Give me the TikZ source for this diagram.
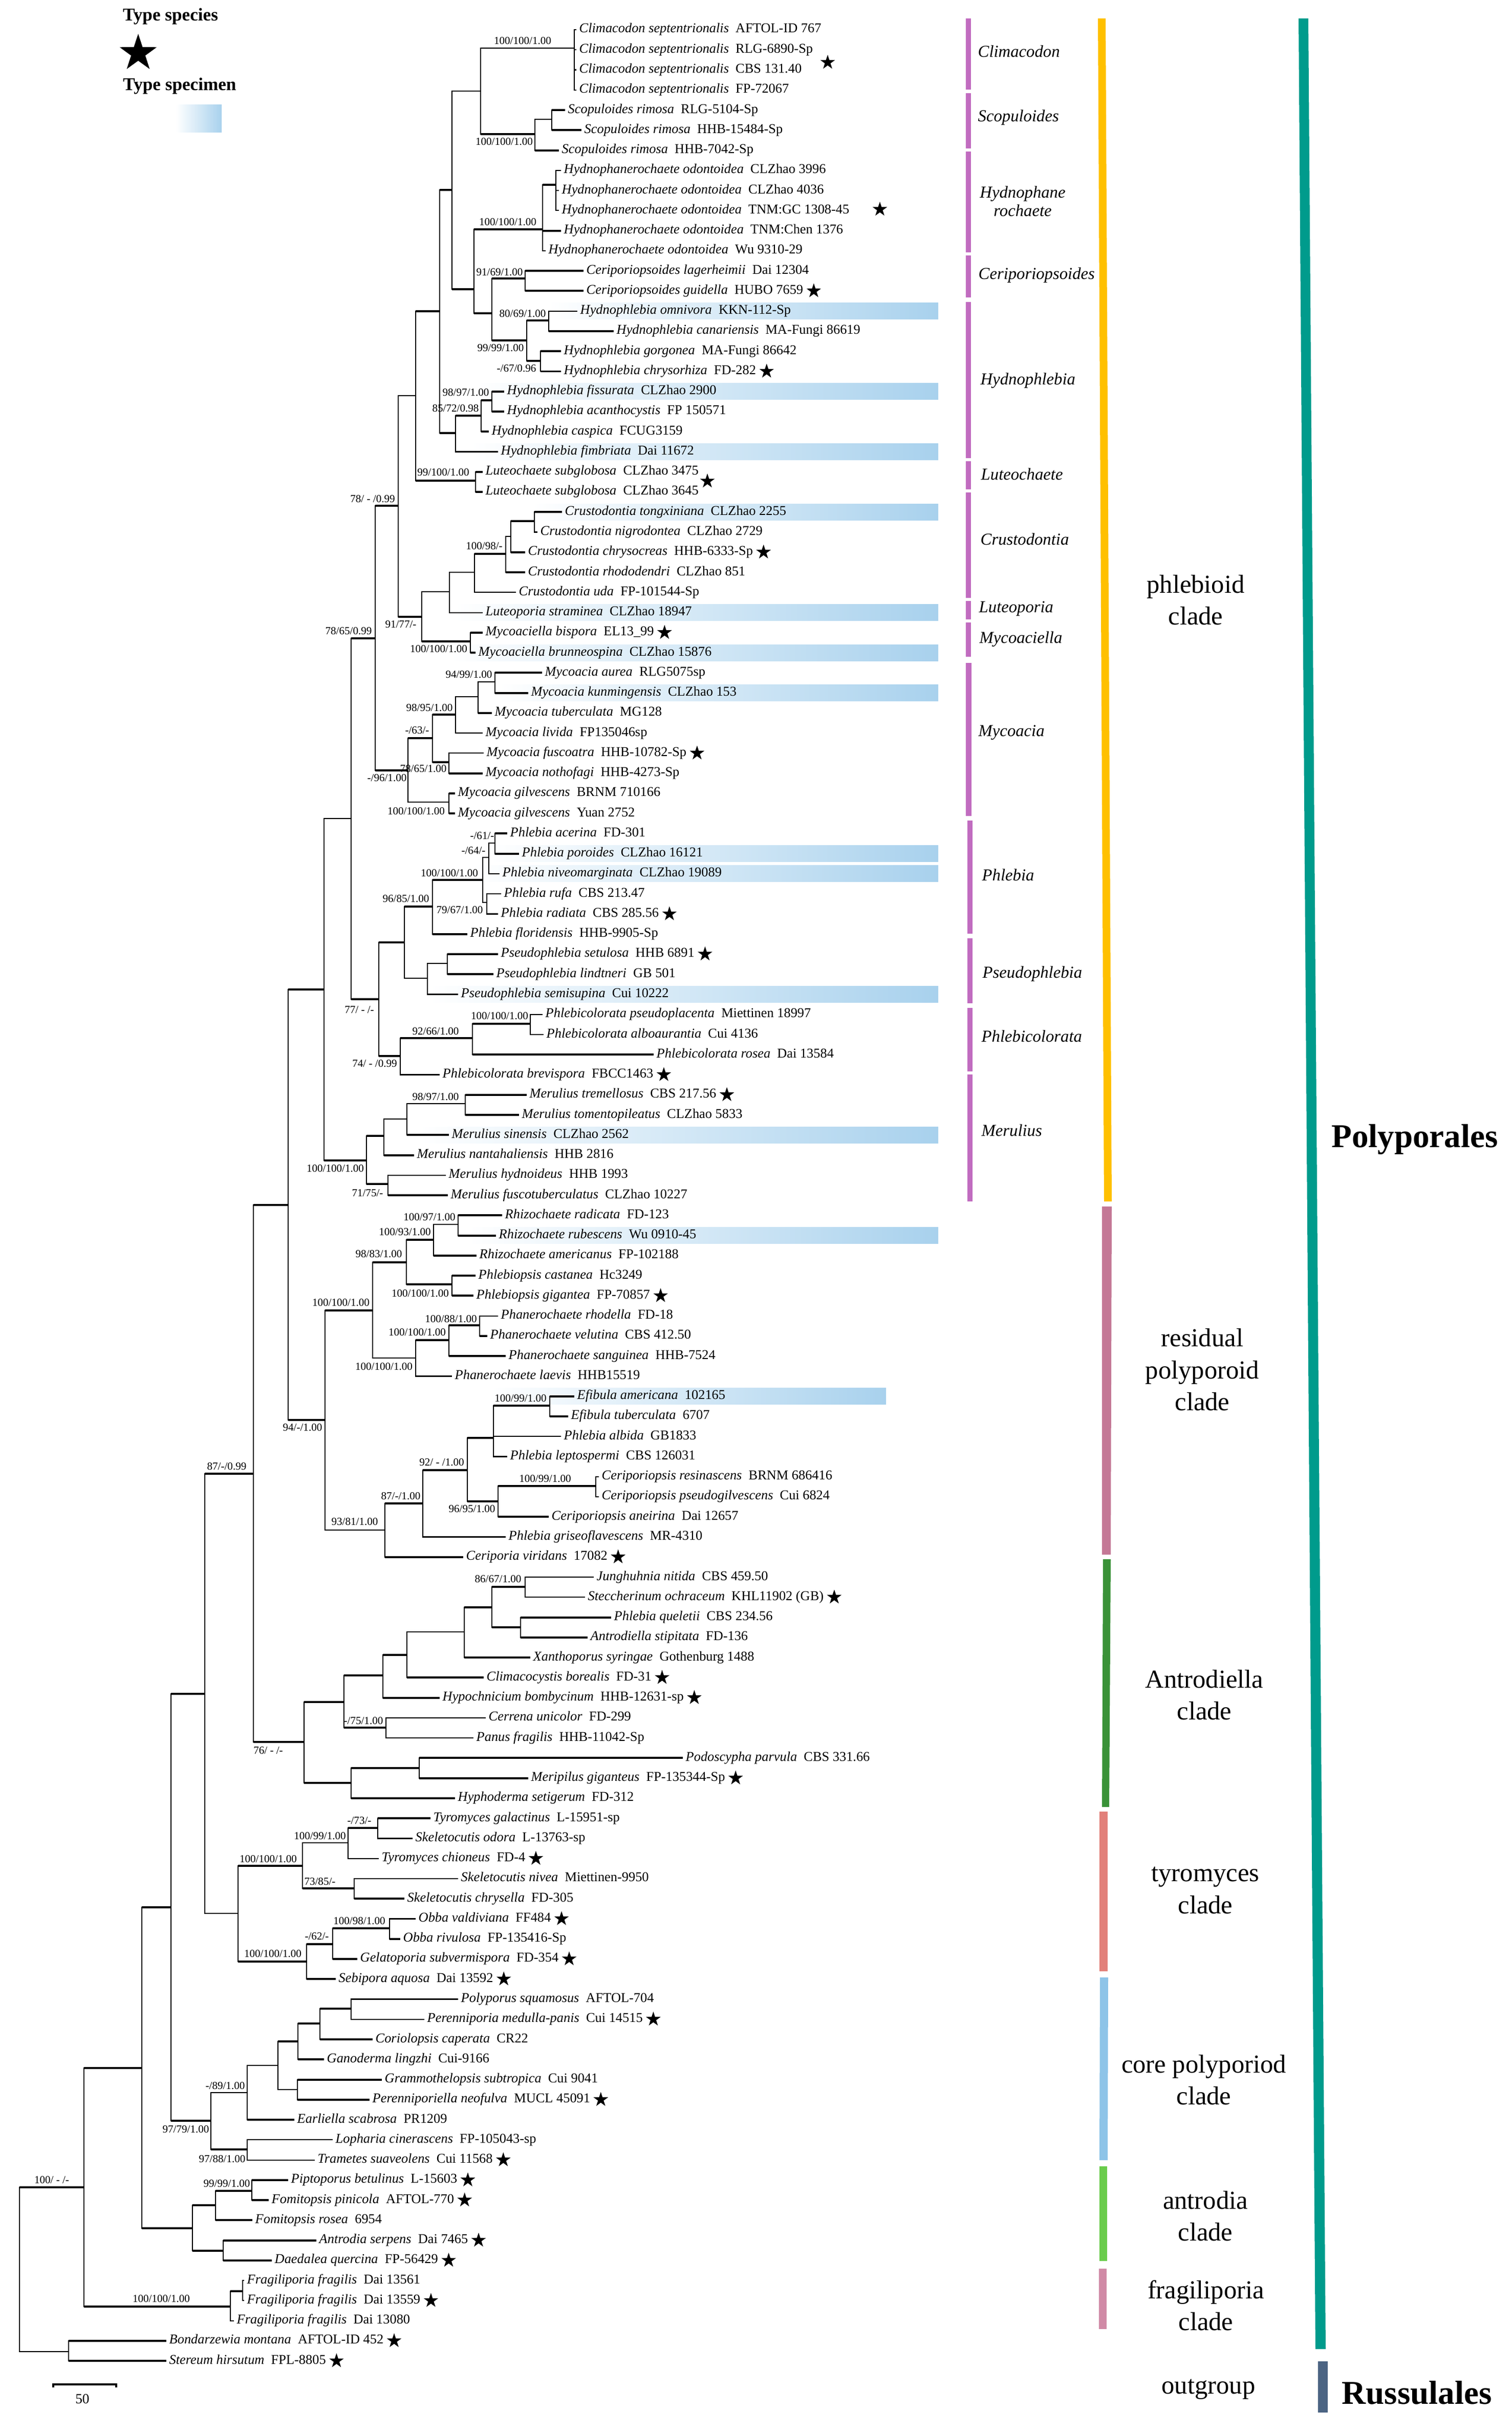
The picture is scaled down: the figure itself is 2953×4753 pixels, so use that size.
\documentclass[tikz,border=0pt]{standalone}
\usepackage{fontspec}
\setmainfont{Liberation Serif}
\usetikzlibrary{shapes.geometric}
\definecolor{hl}{RGB}{168,209,237}
\definecolor{genc}{RGB}{193,108,192}
\definecolor{phlc}{RGB}{255,192,0}
\definecolor{resc}{RGB}{196,120,150}
\definecolor{antdc}{RGB}{58,146,56}
\definecolor{tyrc}{RGB}{226,128,122}
\definecolor{corec}{RGB}{142,196,232}
\definecolor{antrc}{RGB}{106,204,76}
\definecolor{fragc}{RGB}{208,138,166}
\definecolor{polc}{RGB}{0,155,140}
\definecolor{rusc}{RGB}{76,100,131}
\newcommand\mkN[3]{\coordinate (#1) at (#2,#3);}
\newcommand\mkL[4]{\coordinate (L#1) at (#2,{58+39.26*(#1-1)});\node[lf] (T#1) at ([xshift=0.05cm]L#1) {\textit{#3}\hspace{0.5em}#4};}
\newcommand\mkE[3]{\draw[vl] (#2) -- (#2|-#3);\draw[#1] (#2|-#3) -- (#3);}
\newcommand\mkS[1]{\node[st] (S#1) at ([xshift=0.2cm]T#1.east) {};}
\newcommand\mkH[3]{\shade[left color=white,right color=hl] (#2,{58+39.26*(#1-1)-16}) rectangle (#3,{58+39.26*(#1-1)+16});}
\newcommand\mkQ[4]{\node[sup] (#1) at (#2,#3) {#4};}
\begin{document}
\begin{tikzpicture}[x=0.01cm,y=-0.01cm,
 vl/.style={line width=0.6pt,line cap=rect},
 hk/.style={line width=1.1pt},
 hn/.style={line width=0.6pt},
 lf/.style={anchor=west,inner sep=0pt,font=\fontsize{7.5}{9}\selectfont,text height=5pt,text depth=1.6pt},
 sup/.style={inner sep=0pt,font=\fontsize{6}{7}\selectfont},
 st/.style={star,star points=5,star point ratio=2.6,fill=black,draw=none,inner sep=0pt,minimum size=0.3cm},
 gl/.style={anchor=west,inner sep=0pt,font=\fontsize{9.3}{10.3}\selectfont\itshape},
 cl/.style={inner sep=0pt,align=center,font=\fontsize{14.4}{17.8}\selectfont},
 ol/.style={inner sep=0pt,font=\fontsize{18.5}{20}\selectfont\bfseries}]
\fill[white] (0,0) rectangle (2953,4753);
\useasboundingbox (0,0) rectangle (2953,4753);
% legend
\node[inner sep=0pt,font=\fontsize{10}{12}\selectfont\bfseries] (lg1) at (333,32) {Type species};
\node[star,star points=5,star point ratio=2.6,fill=black,inner sep=0pt,minimum size=0.76cm] (lg2) at (270,104) {};
\node[inner sep=0pt,font=\fontsize{10}{12}\selectfont\bfseries] (lg3) at (351,168) {Type specimen};
\shade[left color=white,right color=hl] (344,204) rectangle (433,258);
% highlight bars
\mkH{15}{1070}{1833}\mkH{19}{930}{1833}\mkH{22}{920}{1833}\mkH{25}{1040}{1833}
\mkH{30}{890}{1833}\mkH{32}{880}{1833}\mkH{34}{975}{1833}\mkH{42}{960}{1833}
\mkH{43}{925}{1833}\mkH{49}{840}{1833}\mkH{56}{820}{1833}\mkH{61}{915}{1833}
\mkH{69}{960}{1731}
% internal nodes
\mkN{root}{38}{4434}\mkN{nCC}{164}{4273}\mkN{nOut}{134}{4594}\mkN{nBB}{277}{4040}
\mkN{nFrag}{450}{4506}\mkN{nFragA}{474}{4476}\mkN{nAntr}{376}{4353}\mkN{nFom}{421}{4308}
\mkN{nPip}{492}{4280}\mkN{nAntrB}{436}{4397}\mkN{nAA}{334}{3726}\mkN{nCore}{412}{4143}
\mkN{nTram}{483}{4199}\mkN{nCoreA}{483}{4088}\mkN{nCoreB}{543}{4035}\mkN{nGram}{581}{4082}
\mkN{nCoreC}{582}{3988}\mkN{nCoreD}{625}{3953}\mkN{nPoly}{686}{3924}\mkN{nZ}{400}{3309}
\mkN{nTyr}{465}{3738}\mkN{nTyrA}{591}{3645}\mkN{nTyrB}{680}{3600}\mkN{nTyrC}{738}{3571}
\mkN{nSkel}{692}{3689}\mkN{nObb}{599}{3832}\mkN{nObbA}{650}{3798}\mkN{nObbB}{761}{3767}
\mkN{nY}{495}{2879}\mkN{nAnt}{594}{3403}\mkN{nAntA}{672}{3325}\mkN{nAntB}{748}{3273}
\mkN{nAntC}{795}{3233}\mkN{nAntD}{907}{3188}\mkN{nAntE}{961}{3140}\mkN{nJung}{1026}{3100}
\mkN{nQuel}{1017}{3179}\mkN{nCerr}{754}{3375}\mkN{nPod}{686}{3483}\mkN{nPodA}{819}{3454}
\mkN{nX}{563}{2354}\mkN{nRes}{635}{2774}\mkN{nRhPh}{728}{2560}\mkN{nRhPb}{794}{2466}
\mkN{nRh}{847}{2422}\mkN{nRhA}{895}{2392}\mkN{nPbs}{883}{2509}\mkN{nPhan}{812}{2653}
\mkN{nPhanA}{877}{2618}\mkN{nPhanB}{937}{2589}\mkN{nCer}{752}{2989}\mkN{nCerB}{826}{2937}
\mkN{nCerC}{913}{2872}\mkN{nAlb}{964}{2809}\mkN{nEfi}{1074}{2746}\mkN{nCerD}{973}{2933}
\mkN{nCerE}{1164}{2903}\mkN{nW}{633}{1933}\mkN{nMer}{716}{2267}\mkN{nMerA}{750}{2219}
\mkN{nMerB}{795}{2186}\mkN{nMerC}{909}{2156}\mkN{nMerH}{758}{2313}\mkN{nU}{686}{1599}
\mkN{nV}{740}{1952}\mkN{nPhl}{790}{1841}\mkN{nPhlA}{845}{1771}\mkN{nPhlB}{943}{1719}
\mkN{nPhlC}{955}{1675}\mkN{nAcer}{967}{1647}\mkN{nPhlD}{951}{1763}\mkN{nPse}{835}{1911}
\mkN{nPseA}{874}{1882}\mkN{nPhc}{782}{2063}\mkN{nPhcA}{923}{2028}\mkN{nPhcB}{1036}{2000}
\mkN{nT}{733}{1247}\mkN{nMyc}{797}{1505}\mkN{nMycA}{845}{1442}\mkN{nMycB}{890}{1396}
\mkN{nMycC}{934}{1361}\mkN{nMycD}{967}{1332}\mkN{nMycE}{877}{1489}\mkN{nGilv}{877}{1567}
\mkN{nR}{778}{988}\mkN{nS}{824}{1205}\mkN{nCrustAll}{878}{1156}\mkN{nCrust}{927}{1118}
\mkN{nCrustB}{988}{1082}\mkN{nCrustC}{998}{1048}\mkN{nCrustA}{1044}{1018}\mkN{nMycel}{919}{1253}
\mkN{nQ}{812}{773}\mkN{nLuteo}{929}{939}\mkN{nP}{859}{608}\mkN{nFis}{890}{846}
\mkN{nFisB}{940}{812}\mkN{nFisA}{961}{782}\mkN{nC}{883}{371}\mkN{nB}{939}{178}
\mkN{nClim}{1122}{94}\mkN{nScop}{1045}{262}\mkN{nScopA}{1078}{233}\mkN{nD}{926}{565}
\mkN{nHydph}{1060}{448}\mkN{nHydphA}{1086}{361}\mkN{nE}{961}{612}\mkN{nCerA}{1026}{544}
\mkN{nHph}{1029}{665}\mkN{nHphA}{1072}{626}\mkN{nHphB}{1056}{705}
% leaves
\mkL{1}{1126}{Climacodon septentrionalis}{AFTOL-ID 767}
\mkL{2}{1126}{Climacodon septentrionalis}{RLG-6890-Sp}
\mkL{3}{1126}{Climacodon septentrionalis}{CBS 131.40}
\mkL{4}{1126}{Climacodon septentrionalis}{FP-72067}
\mkL{5}{1104}{Scopuloides rimosa}{RLG-5104-Sp}
\mkL{6}{1136}{Scopuloides rimosa}{HHB-15484-Sp}
\mkL{7}{1092}{Scopuloides rimosa}{HHB-7042-Sp}
\mkL{8}{1096}{Hydnophanerochaete odontoidea}{CLZhao 3996}
\mkL{9}{1092}{Hydnophanerochaete odontoidea}{CLZhao 4036}
\mkL{10}{1092}{Hydnophanerochaete odontoidea}{TNM:GC 1308-45}
\mkL{11}{1096}{Hydnophanerochaete odontoidea}{TNM:Chen 1376}
\mkL{12}{1066}{Hydnophanerochaete odontoidea}{Wu 9310-29}
\mkL{13}{1140}{Ceriporiopsoides lagerheimii}{Dai 12304}
\mkL{14}{1140}{Ceriporiopsoides guidella}{HUBO 7659}
\mkL{15}{1128}{Hydnophlebia omnivora}{KKN-112-Sp}
\mkL{16}{1199}{Hydnophlebia canariensis}{MA-Fungi 86619}
\mkL{17}{1096}{Hydnophlebia gorgonea}{MA-Fungi 86642}
\mkL{18}{1096}{Hydnophlebia chrysorhiza}{FD-282}
\mkL{19}{985}{Hydnophlebia fissurata}{CLZhao 2900}
\mkL{20}{985}{Hydnophlebia acanthocystis}{FP 150571}
\mkL{21}{955}{Hydnophlebia caspica}{FCUG3159}
\mkL{22}{973}{Hydnophlebia fimbriata}{Dai 11672}
\mkL{23}{943}{Luteochaete subglobosa}{CLZhao 3475}
\mkL{24}{943}{Luteochaete subglobosa}{CLZhao 3645}
\mkL{25}{1098}{Crustodontia tongxiniana}{CLZhao 2255}
\mkL{26}{1050}{Crustodontia nigrodontea}{CLZhao 2729}
\mkL{27}{1026}{Crustodontia chrysocreas}{HHB-6333-Sp}
\mkL{28}{1026}{Crustodontia rhododendri}{CLZhao 851}
\mkL{29}{1008}{Crustodontia uda}{FP-101544-Sp}
\mkL{30}{943}{Luteoporia straminea}{CLZhao 18947}
\mkL{31}{943}{Mycoaciella bispora}{EL13\_99}
\mkL{32}{929}{Mycoaciella brunneospina}{CLZhao 15876}
\mkL{33}{1059}{Mycoacia aurea}{RLG5075sp}
\mkL{34}{1032}{Mycoacia kunmingensis}{CLZhao 153}
\mkL{35}{961}{Mycoacia tuberculata}{MG128}
\mkL{36}{943}{Mycoacia livida}{FP135046sp}
\mkL{37}{945}{Mycoacia fuscoatra}{HHB-10782-Sp}
\mkL{38}{943}{Mycoacia nothofagi}{HHB-4273-Sp}
\mkL{39}{889}{Mycoacia gilvescens}{BRNM 710166}
\mkL{40}{889}{Mycoacia gilvescens}{Yuan 2752}
\mkL{41}{991}{Phlebia acerina}{FD-301}
\mkL{42}{1014}{Phlebia poroides}{CLZhao 16121}
\mkL{43}{976}{Phlebia niveomarginata}{CLZhao 19089}
\mkL{44}{979}{Phlebia rufa}{CBS 213.47}
\mkL{45}{973}{Phlebia radiata}{CBS 285.56}
\mkL{46}{913}{Phlebia floridensis}{HHB-9905-Sp}
\mkL{47}{973}{Pseudophlebia setulosa}{HHB 6891}
\mkL{48}{964}{Pseudophlebia lindtneri}{GB 501}
\mkL{49}{895}{Pseudophlebia semisupina}{Cui 10222}
\mkL{50}{1060}{Phlebicolorata pseudoplacenta}{Miettinen 18997}
\mkL{51}{1062}{Phlebicolorata alboaurantia}{Cui 4136}
\mkL{52}{1277}{Phlebicolorata rosea}{Dai 13584}
\mkL{53}{859}{Phlebicolorata brevispora}{FBCC1463}
\mkL{54}{1029}{Merulius tremellosus}{CBS 217.56}
\mkL{55}{1014}{Merulius tomentopileatus}{CLZhao 5833}
\mkL{56}{877}{Merulius sinensis}{CLZhao 2562}
\mkL{57}{809}{Merulius nantahaliensis}{HHB 2816}
\mkL{58}{871}{Merulius hydnoideus}{HHB 1993}
\mkL{59}{875}{Merulius fuscotuberculatus}{CLZhao 10227}
\mkL{60}{981}{Rhizochaete radicata}{FD-123}
\mkL{61}{969}{Rhizochaete rubescens}{Wu 0910-45}
\mkL{62}{931}{Rhizochaete americanus}{FP-102188}
\mkL{63}{929}{Phlebiopsis castanea}{Hc3249}
\mkL{64}{925}{Phlebiopsis gigantea}{FP-70857}
\mkL{65}{973}{Phanerochaete rhodella}{FD-18}
\mkL{66}{952}{Phanerochaete velutina}{CBS 412.50}
\mkL{67}{988}{Phanerochaete sanguinea}{HHB-7524}
\mkL{68}{883}{Phanerochaete laevis}{HHB15519}
\mkL{69}{1122}{Efibula americana}{102165}
\mkL{70}{1110}{Efibula tuberculata}{6707}
\mkL{71}{1096}{Phlebia albida}{GB1833}
\mkL{72}{991}{Phlebia leptospermi}{CBS 126031}
\mkL{73}{1170}{Ceriporiopsis resinascens}{BRNM 686416}
\mkL{74}{1170}{Ceriporiopsis pseudogilvescens}{Cui 6824}
\mkL{75}{1072}{Ceriporiopsis aneirina}{Dai 12657}
\mkL{76}{988}{Phlebia griseoflavescens}{MR-4310}
\mkL{77}{905}{Ceriporia viridans}{17082}
\mkL{78}{1160}{Junghuhnia nitida}{CBS 459.50}
\mkL{79}{1143}{Steccherinum ochraceum}{KHL11902 (GB)}
\mkL{80}{1194}{Phlebia queletii}{CBS 234.56}
\mkL{81}{1148}{Antrodiella stipitata}{FD-136}
\mkL{82}{1036}{Xanthoporus syringae}{Gothenburg 1488}
\mkL{83}{945}{Climacocystis borealis}{FD-31}
\mkL{84}{859}{Hypochnicium bombycinum}{HHB-12631-sp}
\mkL{85}{949}{Cerrena unicolor}{FD-299}
\mkL{86}{925}{Panus fragilis}{HHB-11042-Sp}
\mkL{87}{1334}{Podoscypha parvula}{CBS 331.66}
\mkL{88}{1032}{Meripilus giganteus}{FP-135344-Sp}
\mkL{89}{889}{Hyphoderma setigerum}{FD-312}
\mkL{90}{841}{Tyromyces galactinus}{L-15951-sp}
\mkL{91}{806}{Skeletocutis odora}{L-13763-sp}
\mkL{92}{740}{Tyromyces chioneus}{FD-4}
\mkL{93}{895}{Skeletocutis nivea}{Miettinen-9950}
\mkL{94}{790}{Skeletocutis chrysella}{FD-305}
\mkL{95}{812}{Obba valdiviana}{FF484}
\mkL{96}{782}{Obba rivulosa}{FP-135416-Sp}
\mkL{97}{698}{Gelatoporia subvermispora}{FD-354}
\mkL{98}{656}{Sebipora aquosa}{Dai 13592}
\mkL{99}{895}{Polyporus squamosus}{AFTOL-704}
\mkL{100}{829}{Perenniporia medulla-panis}{Cui 14515}
\mkL{101}{728}{Coriolopsis caperata}{CR22}
\mkL{102}{633}{Ganoderma lingzhi}{Cui-9166}
\mkL{103}{746}{Grammothelopsis subtropica}{Cui 9041}
\mkL{104}{722}{Perenniporiella neofulva}{MUCL 45091}
\mkL{105}{575}{Earliella scabrosa}{PR1209}
\mkL{106}{650}{Lopharia cinerascens}{FP-105043-sp}
\mkL{107}{615}{Trametes suaveolens}{Cui 11568}
\mkL{108}{563}{Piptoporus betulinus}{L-15603}
\mkL{109}{525}{Fomitopsis pinicola}{AFTOL-770}
\mkL{110}{493}{Fomitopsis rosea}{6954}
\mkL{111}{618}{Antrodia serpens}{Dai 7465}
\mkL{112}{531}{Daedalea quercina}{FP-56429}
\mkL{113}{477}{Fragiliporia fragilis}{Dai 13561}
\mkL{114}{477}{Fragiliporia fragilis}{Dai 13559}
\mkL{115}{457}{Fragiliporia fragilis}{Dai 13080}
\mkL{116}{325}{Bondarzewia montana}{AFTOL-ID 452}
\mkL{117}{325}{Stereum hirsutum}{FPL-8805}
% edges
\mkE{hk}{root}{nCC}\mkE{hn}{root}{nOut}\mkE{hk}{nOut}{L116}\mkE{hk}{nOut}{L117}
\mkE{hk}{nCC}{nBB}\mkE{hk}{nCC}{nFrag}\mkE{hk}{nFrag}{nFragA}\mkE{hn}{nFrag}{L115}
\mkE{hn}{nFragA}{L113}\mkE{hn}{nFragA}{L114}
\mkE{hk}{nBB}{nAA}\mkE{hk}{nBB}{nAntr}\mkE{hk}{nAntr}{nFom}\mkE{hk}{nAntr}{nAntrB}
\mkE{hk}{nFom}{nPip}\mkE{hk}{nFom}{L110}\mkE{hk}{nPip}{L108}\mkE{hk}{nPip}{L109}
\mkE{hk}{nAntrB}{L111}\mkE{hk}{nAntrB}{L112}
\mkE{hk}{nAA}{nZ}\mkE{hk}{nAA}{nCore}\mkE{hn}{nCore}{nCoreA}\mkE{hk}{nCore}{nTram}
\mkE{hn}{nTram}{L106}\mkE{hn}{nTram}{L107}\mkE{hn}{nCoreA}{nCoreB}\mkE{hk}{nCoreA}{L105}
\mkE{hk}{nCoreB}{nCoreC}\mkE{hn}{nCoreB}{nGram}\mkE{hk}{nGram}{L103}\mkE{hk}{nGram}{L104}
\mkE{hk}{nCoreC}{nCoreD}\mkE{hk}{nCoreC}{L102}\mkE{hk}{nCoreD}{nPoly}\mkE{hk}{nCoreD}{L101}
\mkE{hn}{nPoly}{L99}\mkE{hn}{nPoly}{L100}
\mkE{hk}{nZ}{nY}\mkE{hn}{nZ}{nTyr}\mkE{hk}{nTyr}{nTyrA}\mkE{hk}{nTyr}{nObb}
\mkE{hn}{nTyrA}{nTyrB}\mkE{hk}{nTyrA}{nSkel}\mkE{hk}{nTyrB}{nTyrC}\mkE{hn}{nTyrB}{L92}
\mkE{hk}{nTyrC}{L90}\mkE{hk}{nTyrC}{L91}\mkE{hn}{nSkel}{L93}\mkE{hk}{nSkel}{L94}
\mkE{hk}{nObb}{nObbA}\mkE{hk}{nObb}{L98}\mkE{hk}{nObbA}{nObbB}\mkE{hk}{nObbA}{L97}
\mkE{hk}{nObbB}{L95}\mkE{hk}{nObbB}{L96}
\mkE{hk}{nY}{nX}\mkE{hk}{nY}{nAnt}\mkE{hk}{nAnt}{nAntA}\mkE{hk}{nAnt}{nPod}
\mkE{hk}{nAntA}{nAntB}\mkE{hk}{nAntA}{nCerr}\mkE{hk}{nAntB}{nAntC}\mkE{hk}{nAntB}{L84}
\mkE{hn}{nAntC}{nAntD}\mkE{hk}{nAntC}{L83}\mkE{hk}{nAntD}{nAntE}\mkE{hk}{nAntD}{L82}
\mkE{hk}{nAntE}{nJung}\mkE{hk}{nAntE}{nQuel}\mkE{hn}{nJung}{L78}\mkE{hn}{nJung}{L79}
\mkE{hk}{nQuel}{L80}\mkE{hk}{nQuel}{L81}\mkE{hn}{nCerr}{L85}\mkE{hn}{nCerr}{L86}
\mkE{hk}{nPod}{nPodA}\mkE{hk}{nPod}{L89}\mkE{hk}{nPodA}{L87}\mkE{hk}{nPodA}{L88}
\mkE{hk}{nX}{nW}\mkE{hk}{nX}{nRes}\mkE{hk}{nRes}{nRhPh}\mkE{hn}{nRes}{nCer}
\mkE{hk}{nRhPh}{nRhPb}\mkE{hn}{nRhPh}{nPhan}\mkE{hk}{nRhPb}{nRh}\mkE{hk}{nRhPb}{nPbs}
\mkE{hn}{nRh}{nRhA}\mkE{hk}{nRh}{L62}\mkE{hk}{nRhA}{L60}\mkE{hk}{nRhA}{L61}
\mkE{hk}{nPbs}{L63}\mkE{hk}{nPbs}{L64}\mkE{hk}{nPhan}{nPhanA}\mkE{hk}{nPhan}{L68}
\mkE{hk}{nPhanA}{nPhanB}\mkE{hk}{nPhanA}{L67}\mkE{hn}{nPhanB}{L65}\mkE{hk}{nPhanB}{L66}
\mkE{hk}{nCer}{nCerB}\mkE{hk}{nCer}{L77}\mkE{hk}{nCerB}{nCerC}\mkE{hk}{nCerB}{L76}
\mkE{hk}{nCerC}{nAlb}\mkE{hk}{nCerC}{nCerD}\mkE{hk}{nAlb}{nEfi}\mkE{hn}{nAlb}{L71}
\mkE{hn}{nAlb}{L72}\mkE{hk}{nEfi}{L69}\mkE{hk}{nEfi}{L70}\mkE{hk}{nCerD}{nCerE}
\mkE{hk}{nCerD}{L75}\mkE{hn}{nCerE}{L73}\mkE{hn}{nCerE}{L74}
\mkE{hn}{nW}{nU}\mkE{hk}{nW}{nMer}\mkE{hk}{nMer}{nMerA}\mkE{hk}{nMer}{nMerH}
\mkE{hn}{nMerA}{nMerB}\mkE{hk}{nMerA}{L57}\mkE{hn}{nMerB}{nMerC}\mkE{hk}{nMerB}{L56}
\mkE{hk}{nMerC}{L54}\mkE{hk}{nMerC}{L55}\mkE{hn}{nMerH}{L58}\mkE{hk}{nMerH}{L59}
\mkE{hk}{nU}{nT}\mkE{hk}{nU}{nV}\mkE{hk}{nV}{nPhl}\mkE{hk}{nV}{nPhc}
\mkE{hk}{nPhl}{nPhlA}\mkE{hn}{nPhl}{nPse}\mkE{hk}{nPhlA}{nPhlB}\mkE{hk}{nPhlA}{L46}
\mkE{hn}{nPhlB}{nPhlC}\mkE{hn}{nPhlB}{nPhlD}\mkE{hn}{nPhlC}{nAcer}\mkE{hn}{nPhlC}{L43}
\mkE{hk}{nAcer}{L41}\mkE{hk}{nAcer}{L42}\mkE{hn}{nPhlD}{L44}\mkE{hn}{nPhlD}{L45}
\mkE{hn}{nPse}{nPseA}\mkE{hk}{nPse}{L49}\mkE{hk}{nPseA}{L47}\mkE{hk}{nPseA}{L48}
\mkE{hk}{nPhc}{nPhcA}\mkE{hk}{nPhc}{L53}\mkE{hk}{nPhcA}{nPhcB}\mkE{hk}{nPhcA}{L52}
\mkE{hn}{nPhcB}{L50}\mkE{hn}{nPhcB}{L51}
\mkE{hk}{nT}{nR}\mkE{hk}{nT}{nMyc}\mkE{hk}{nMyc}{nMycA}\mkE{hn}{nMyc}{nGilv}
\mkE{hk}{nMycA}{nMycB}\mkE{hk}{nMycA}{nMycE}\mkE{hn}{nMycB}{nMycC}\mkE{hn}{nMycB}{L36}
\mkE{hn}{nMycC}{nMycD}\mkE{hk}{nMycC}{L35}\mkE{hk}{nMycD}{L33}\mkE{hk}{nMycD}{L34}
\mkE{hn}{nMycE}{L37}\mkE{hk}{nMycE}{L38}\mkE{hk}{nGilv}{L39}\mkE{hk}{nGilv}{L40}
\mkE{hn}{nR}{nQ}\mkE{hk}{nR}{nS}\mkE{hn}{nS}{nCrustAll}\mkE{hk}{nS}{nMycel}
\mkE{hn}{nCrustAll}{nCrust}\mkE{hn}{nCrustAll}{L30}\mkE{hk}{nCrust}{nCrustB}\mkE{hn}{nCrust}{L29}
\mkE{hn}{nCrustB}{nCrustC}\mkE{hk}{nCrustB}{L28}\mkE{hk}{nCrustC}{nCrustA}\mkE{hk}{nCrustC}{L27}
\mkE{hk}{nCrustA}{L25}\mkE{hk}{nCrustA}{L26}\mkE{hk}{nMycel}{L31}\mkE{hk}{nMycel}{L32}
\mkE{hk}{nQ}{nP}\mkE{hk}{nQ}{nLuteo}\mkE{hk}{nLuteo}{L23}\mkE{hk}{nLuteo}{L24}
\mkE{hk}{nP}{nC}\mkE{hk}{nP}{nFis}\mkE{hk}{nFis}{nFisB}\mkE{hn}{nFis}{L22}
\mkE{hk}{nFisB}{nFisA}\mkE{hk}{nFisB}{L21}\mkE{hk}{nFisA}{L19}\mkE{hk}{nFisA}{L20}
\mkE{hn}{nC}{nB}\mkE{hk}{nC}{nD}\mkE{hn}{nB}{nClim}\mkE{hk}{nB}{nScop}
\mkE{hn}{nClim}{L1}\mkE{hn}{nClim}{L2}\mkE{hn}{nClim}{L3}\mkE{hn}{nClim}{L4}
\mkE{hn}{nScop}{nScopA}\mkE{hk}{nScop}{L7}\mkE{hk}{nScopA}{L5}\mkE{hk}{nScopA}{L6}
\mkE{hk}{nD}{nHydph}\mkE{hk}{nD}{nE}\mkE{hk}{nHydph}{nHydphA}\mkE{hk}{nHydph}{L11}
\mkE{hn}{nHydph}{L12}\mkE{hn}{nHydphA}{L8}\mkE{hn}{nHydphA}{L9}\mkE{hn}{nHydphA}{L10}
\mkE{hk}{nE}{nCerA}\mkE{hk}{nE}{nHph}\mkE{hk}{nCerA}{L13}\mkE{hk}{nCerA}{L14}
\mkE{hk}{nHph}{nHphA}\mkE{hk}{nHph}{nHphB}\mkE{hn}{nHphA}{L15}\mkE{hk}{nHphA}{L16}
\mkE{hk}{nHphB}{L17}\mkE{hk}{nHphB}{L18}
% stars
\node[st] (Sclim) at (1617,122) {};
\node[st] (Shyd) at (1719,409) {};
\node[st] (Slut) at (1382,940) {};
\mkS{14}\mkS{18}\mkS{27}\mkS{31}\mkS{37}\mkS{45}\mkS{47}\mkS{53}\mkS{54}\mkS{64}
\mkS{77}\mkS{79}\mkS{83}\mkS{84}\mkS{88}\mkS{92}\mkS{95}\mkS{97}\mkS{98}\mkS{100}
\mkS{104}\mkS{107}\mkS{108}\mkS{109}\mkS{111}\mkS{112}\mkS{114}\mkS{116}\mkS{117}
% support values
\mkQ{q1}{1021}{80}{100/100/1.00}\mkQ{q2}{985}{277}{100/100/1.00}\mkQ{q3}{992}{434}{100/100/1.00}
\mkQ{q4}{976}{532}{91/69/1.00}\mkQ{q5}{1021}{613}{80/69/1.00}\mkQ{q6}{978}{680}{99/99/1.00}
\mkQ{q7}{1009}{720}{-/67/0.96}\mkQ{q8}{910}{767}{98/97/1.00}\mkQ{q9}{890}{798}{85/72/0.98}
\mkQ{q10}{866}{923}{99/100/1.00}\mkQ{q11}{728}{975}{78/ - /0.99}\mkQ{q12}{946}{1067}{100/98/-}
\mkQ{q13}{783}{1220}{91/77/-}\mkQ{q14}{681}{1233}{78/65/0.99}\mkQ{q15}{857}{1268}{100/100/1.00}
\mkQ{q16}{916}{1318}{94/99/1.00}\mkQ{q17}{839}{1383}{98/95/1.00}\mkQ{q18}{815}{1427}{-/63/-}
\mkQ{q19}{827}{1502}{78/65/1.00}\mkQ{q20}{756}{1520}{-/96/1.00}\mkQ{q21}{813}{1585}{100/100/1.00}
\mkQ{q22}{942}{1633}{-/61/-}\mkQ{q23}{925}{1662}{-/64/-}\mkQ{q24}{878}{1706}{100/100/1.00}
\mkQ{q25}{793}{1756}{96/85/1.00}\mkQ{q26}{898}{1778}{79/67/1.00}\mkQ{q27}{702}{1973}{77/ - /-}
\mkQ{q28}{976}{1985}{100/100/1.00}\mkQ{q29}{851}{2015}{92/66/1.00}\mkQ{q30}{732}{2078}{74/ - /0.99}
\mkQ{q31}{851}{2143}{98/97/1.00}\mkQ{q32}{655}{2283}{100/100/1.00}\mkQ{q33}{718}{2331}{71/75/-}
\mkQ{q34}{839}{2378}{100/97/1.00}\mkQ{q35}{791}{2407}{100/93/1.00}\mkQ{q36}{740}{2450}{98/83/1.00}
\mkQ{q37}{821}{2527}{100/100/1.00}\mkQ{q38}{666}{2545}{100/100/1.00}\mkQ{q39}{881}{2577}{100/88/1.00}
\mkQ{q40}{815}{2603}{100/100/1.00}\mkQ{q41}{750}{2670}{100/100/1.00}\mkQ{q42}{1017}{2732}{100/99/1.00}
\mkQ{q43}{591}{2789}{94/-/1.00}\mkQ{q44}{863}{2857}{92/ - /1.00}\mkQ{q45}{443}{2865}{87/-/0.99}
\mkQ{q46}{1065}{2889}{100/99/1.00}\mkQ{q47}{783}{2923}{87/-/1.00}\mkQ{q48}{922}{2948}{96/95/1.00}
\mkQ{q49}{693}{2973}{93/81/1.00}\mkQ{q50}{973}{3085}{86/67/1.00}\mkQ{q51}{710}{3362}{-/75/1.00}
\mkQ{q52}{524}{3420}{76/ - /-}\mkQ{q53}{702}{3557}{-/73/-}\mkQ{q54}{625}{3587}{100/99/1.00}
\mkQ{q55}{524}{3632}{100/100/1.00}\mkQ{q56}{625}{3676}{73/85/-}\mkQ{q57}{702}{3753}{100/98/1.00}
\mkQ{q58}{619}{3783}{-/62/-}\mkQ{q59}{533}{3817}{100/100/1.00}\mkQ{q60}{440}{4075}{-/89/1.00}
\mkQ{q61}{363}{4160}{97/79/1.00}\mkQ{q62}{434}{4218}{97/88/1.00}\mkQ{q63}{443}{4266}{99/99/1.00}
\mkQ{q64}{101}{4259}{100/ - /-}\mkQ{q65}{315}{4491}{100/100/1.00}
% scale bar
\coordinate (sb1) at (104,4658);\coordinate (sb2) at (227,4658);
\draw[line width=1pt] ([yshift=-0.06cm]sb1) -- (sb1) -- (sb2) -- ([yshift=-0.06cm]sb2);
\node[inner sep=0pt,font=\fontsize{7.8}{9}\selectfont] (sbl) at (161,4686) {50};
% genus bars
\fill[genc] (1887,36) rectangle (1897,175);
\fill[genc] (1887,182) rectangle (1897,290);
\fill[genc] (1887,296) rectangle (1897,493);
\fill[genc] (1887,499) rectangle (1897,581);
\fill[genc] (1887,590) rectangle (1897,895);
\fill[genc] (1887,901) rectangle (1897,956);
\fill[genc] (1887,962) rectangle (1897,1168);
\fill[genc] (1887,1174) rectangle (1897,1210);
\fill[genc] (1887,1216) rectangle (1897,1283);
\fill[genc] (1887,1295) rectangle (1898,1594);
\fill[genc] (1890,1603) rectangle (1900,1824);
\fill[genc] (1890,1833) rectangle (1900,1960);
\fill[genc] (1890,1969) rectangle (1900,2093);
\fill[genc] (1890,2099) rectangle (1900,2347);
\node[gl] (g1) at (1910,100) {Climacodon};
\node[gl] (g2) at (1910,230) {Scopuloides};
\node[inner sep=0pt,align=center,font=\fontsize{9.3}{10.3}\selectfont\itshape] (g3) at (1998,393) {Hydnophane\\rochaete};
\node[gl] (g4) at (1911,538) {Ceriporiopsoides};
\node[gl] (g5) at (1915,744) {Hydnophlebia};
\node[gl] (g6) at (1916,926) {Luteochaete};
\node[gl] (g7) at (1915,1053) {Crustodontia};
\node[gl] (g8) at (1912,1189) {Luteoporia};
\node[gl] (g9) at (1913,1249) {Mycoaciella};
\node[gl] (g10) at (1911,1431) {Mycoacia};
\node[gl] (g11) at (1918,1709) {Phlebia};
\node[gl] (g12) at (1919,1903) {Pseudophlebia};
\node[gl] (g13) at (1917,2024) {Phlebicolorata};
\node[gl] (g14) at (1917,2208) {Merulius};
% clade bars
\fill[phlc] (2145,36) -- (2160,36) -- (2172,2347) -- (2157,2347) -- cycle;
\fill[resc] (2153,2357) -- (2172,2357) -- (2170,3037) -- (2153,3037) -- cycle;
\fill[antdc] (2155,3046) -- (2170,3046) -- (2167,3530) -- (2153,3530) -- cycle;
\fill[tyrc] (2148,3539) rectangle (2164,3851);
\fill[corec] (2149,3863) -- (2165,3863) -- (2164,4220) -- (2148,4220) -- cycle;
\fill[antrc] (2148,4232) rectangle (2163,4417);
\fill[fragc] (2147,4432) rectangle (2162,4550);
\fill[polc] (2537,36) -- (2556,36) -- (2590,4589) -- (2570,4589) -- cycle;
\fill[rusc] (2575,4613) rectangle (2594,4713);
\node[cl] (c1) at (2336,1172) {phlebioid\\clade};
\node[cl] (c2) at (2349,2676) {residual\\polyporoid\\clade};
\node[cl] (c3) at (2353,3311) {Antrodiella\\clade};
\node[cl] (c4) at (2355,3693) {tyromyces\\clade};
\node[cl] (c5) at (2352,4063) {core polyporiod\\clade};
\node[cl] (c6) at (2355,4329) {antrodia\\clade};
\node[cl] (c7) at (2356,4504) {fragiliporia\\clade};
\node[cl] (c8) at (2361,4668) {outgroup};
\node[ol] (o1) at (2764,2226) {Polyporales};
\node[ol] (o2) at (2768,4674) {Russulales};
\end{tikzpicture}
\end{document}
